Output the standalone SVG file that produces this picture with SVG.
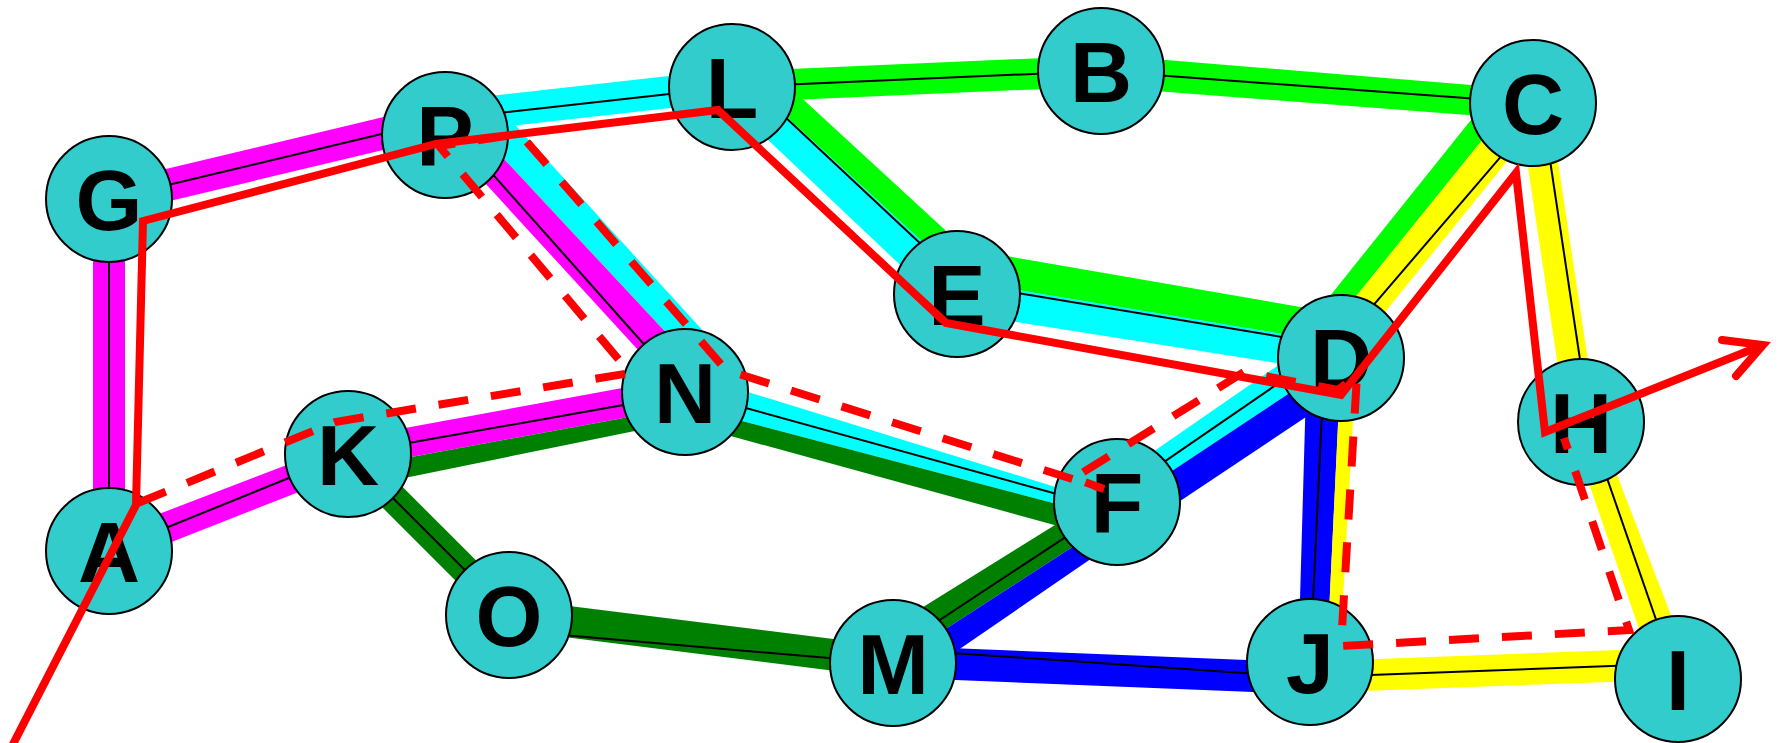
<svg xmlns="http://www.w3.org/2000/svg" width="1783" height="743" viewBox="0 0 1783 743">
<style>
.mag{fill:#ff00ff}.cya{fill:#00ffff}.lgr{fill:#00ff00}.dgr{fill:#008000}.blu{fill:#0000ff}.yel{fill:#ffff00}
.ctr{stroke:#000;stroke-width:2;fill:none}
.node circle{fill:#33cccc;stroke:#000;stroke-width:2}
.node text{font-family:"Liberation Sans",Arial,sans-serif;font-weight:bold;font-size:86px;text-anchor:middle;fill:#000}
.route{fill:none;stroke:#ff0000;stroke-width:8;stroke-linejoin:miter;stroke-miterlimit:10}
.dash{stroke-dasharray:30 23}
</style>
<rect width="1783" height="743" fill="#ffffff"/>
<g id="connectors">
<g id="edge-G-A" transform="translate(109 199) rotate(90)">
<polygon class="mag" points="0,-16 352,-16 352,16 0,16"/>
<line class="ctr" x1="0" y1="0" x2="352" y2="0"/>
</g>
<g id="edge-G-P" transform="translate(109 199) rotate(-10.784)">
<polygon class="mag" points="0,-16 342,-31.7 342,0.3 0,16"/>
<line class="ctr" x1="0" y1="0" x2="342" y2="-15.7"/>
</g>
<g id="edge-P-L" transform="translate(445 135) rotate(-9.495)">
<polygon class="cya" points="0,-33.8 291,-18 291,14 0,-1.8"/>
<line class="ctr" x1="0" y1="-15.8" x2="291" y2="0"/>
</g>
<g id="edge-L-B" transform="translate(732 87) rotate(-2.483)">
<polygon class="lgr" points="0,-15.5 369.4,-15.5 369.4,15.5 0,15.5"/>
<line class="ctr" x1="0" y1="0" x2="369.4" y2="0"/>
</g>
<g id="edge-B-C" transform="translate(1101 71) rotate(4.236)">
<polygon class="lgr" points="0,-16.2 433.2,-12.8 433.2,16.9 0,15.7"/>
<line class="ctr" x1="0" y1="0" x2="433.2" y2="0"/>
</g>
<g id="edge-L-E" transform="translate(732 87) rotate(42.61)">
<polygon class="lgr" points="0,-39 305.7,-39 305.7,-15 0,-15"/>
<polygon class="cya" points="0,-15 305.7,-15 305.7,18 0,13.6"/>
<line class="ctr" x1="0" y1="-14.3" x2="305.7" y2="-11.8"/>
</g>
<g id="edge-E-D" transform="translate(957 294) rotate(9.462)">
<polygon class="lgr" points="0,-45.8 389.3,-43.4 389.3,-14 0,-14"/>
<polygon class="cya" points="0,-14 389.3,-14 389.3,14.9 0,18.4"/>
<line class="ctr" x1="0" y1="-11" x2="389.3" y2="-11"/>
</g>
<g id="edge-D-C" transform="translate(1341 358) rotate(-53.03)">
<polygon class="lgr" points="0,-47.4 319.2,-37.8 319.2,-16.2 0,-27"/>
<polygon class="yel" points="0,-27 319.2,-16.2 319.2,16.4 0,5.4"/>
<line class="ctr" x1="0" y1="-9.8" x2="319.2" y2="10.5"/>
</g>
<g id="edge-C-H" transform="translate(1533 103) rotate(81.44)">
<polygon class="yel" points="0,-16 322.6,-16 322.6,14.5 0,14.5"/>
<line class="ctr" x1="0" y1="-8.3" x2="322.6" y2="-8.3"/>
</g>
<g id="edge-H-I" transform="translate(1581 422) rotate(69.32)">
<polygon class="yel" points="0,-14.6 274.7,-16.4 274.7,20.5 0,12.5"/>
<line class="ctr" x1="0" y1="-6.2" x2="274.7" y2="1.3"/>
</g>
<g id="edge-J-I" transform="translate(1310 662) rotate(2.645)">
<polygon class="yel" points="0,-0.5 368.4,-31.2 368.4,0.4 0,31.1"/>
<line class="ctr" x1="0" y1="15.3" x2="368.4" y2="-15.4"/>
</g>
<g id="edge-J-D" transform="translate(1310 662) rotate(-84.18)">
<polygon class="blu" points="0,-11.8 305.6,-34.2 305.6,0.2 0,16.7"/>
<polygon class="yel" points="0,16.7 305.6,0.2 305.6,15.5 0,29.5"/>
<line class="ctr" x1="0" y1="0.1" x2="305.6" y2="-16.4"/>
</g>
<g id="edge-M-J" transform="translate(893 663) rotate(-0.137)">
<polygon class="blu" points="0,-17.3 417,0.55 417,32.3 0,14.4"/>
<line class="ctr" x1="0" y1="-14.1" x2="417" y2="15.6"/>
</g>
<g id="edge-F-D" transform="translate(1117 502) rotate(-32.74)">
<polygon class="cya" points="0,-20.7 266.3,-29.8 266.3,0.9 0,4.5"/>
<polygon class="blu" points="0,4.5 266.3,0.9 266.3,29.7 0,34.2"/>
<line class="ctr" x1="0" y1="-6.4" x2="266.3" y2="-14.6"/>
</g>
<g id="edge-M-F" transform="translate(893 663) rotate(-35.71)">
<polygon class="dgr" points="0,-31.6 275.9,-13.3 275.9,13.7 0,-0.1"/>
<polygon class="blu" points="0,-0.1 275.9,13.7 275.9,32.2 0,26.1"/>
<line class="ctr" x1="0" y1="-10.2" x2="275.9" y2="1"/>
</g>
<g id="edge-N-F" transform="translate(685 392) rotate(14.29)">
<polygon class="cya" points="0,-18.6 445.8,3.8 445.8,17.2 0,13.6"/>
<polygon class="dgr" points="0,13.6 445.8,17.2 445.8,38.7 0,30.3"/>
<line class="ctr" x1="0" y1="-0.8" x2="445.8" y2="8.3"/>
</g>
<g id="edge-P-N" transform="translate(445 135) rotate(46.96)">
<polygon class="cya" points="0,-58.7 351.6,-54.6 351.6,-26.7 0,-26.7"/>
<polygon class="mag" points="0,-26.7 351.6,-26.7 351.6,6.2 0,3"/>
<line class="ctr" x1="0" y1="-9.6" x2="351.6" y2="-1.1"/>
</g>
<g id="edge-K-N" transform="translate(348 454) rotate(-10.42)">
<polygon class="mag" points="0,-15.2 342.7,-15.2 342.7,14.4 0,14.4"/>
<polygon class="dgr" points="0,14.4 342.7,14.4 342.7,28.2 0,34.7"/>
<line class="ctr" x1="0" y1="-0.2" x2="342.7" y2="2"/>
</g>
<g id="edge-A-K" transform="translate(109 551) rotate(-22.09)">
<polygon class="mag" points="0,-16.7 257.9,-11.6 257.9,17.4 0,14.5"/>
<line class="ctr" x1="0" y1="0" x2="257.9" y2="0"/>
</g>
<g id="edge-K-O" transform="translate(348 454) rotate(45)">
<polygon class="dgr" points="0,-15.3 227.7,-15.3 227.7,13.5 0,13.5"/>
<line class="ctr" x1="0" y1="-0.6" x2="227.7" y2="-0.6"/>
</g>
<g id="edge-O-M" transform="translate(509 615) rotate(7.125)">
<polygon class="dgr" points="0,-16.5 387,-16.5 387,15 0,15"/>
<line class="ctr" x1="0" y1="15.2" x2="387" y2="0.6"/>
</g>
</g>
<g id="nodes">
<g id="node-A" class="node"><circle cx="109" cy="551" r="63"/><text x="109" y="582">A</text></g>
<g id="node-B" class="node"><circle cx="1101" cy="71" r="63"/><text x="1101" y="102">B</text></g>
<g id="node-C" class="node"><circle cx="1533" cy="103" r="63"/><text x="1533" y="134">C</text></g>
<g id="node-D" class="node"><circle cx="1341" cy="358" r="63"/><text x="1341" y="389">D</text></g>
<g id="node-E" class="node"><circle cx="957" cy="294" r="63"/><text x="957" y="325">E</text></g>
<g id="node-F" class="node"><circle cx="1117" cy="502" r="63"/><text x="1117" y="533">F</text></g>
<g id="node-G" class="node"><circle cx="109" cy="199" r="63"/><text x="109" y="230">G</text></g>
<g id="node-H" class="node"><circle cx="1581" cy="422" r="63"/><text x="1581" y="453">H</text></g>
<g id="node-I" class="node"><circle cx="1678" cy="679" r="63"/><text x="1678" y="710">I</text></g>
<g id="node-J" class="node"><circle cx="1310" cy="662" r="63"/><text x="1310" y="693">J</text></g>
<g id="node-K" class="node"><circle cx="348" cy="454" r="63"/><text x="348" y="485">K</text></g>
<g id="node-L" class="node"><circle cx="732" cy="87" r="63"/><text x="732" y="118">L</text></g>
<g id="node-M" class="node"><circle cx="893" cy="663" r="63"/><text x="893" y="694">M</text></g>
<g id="node-N" class="node"><circle cx="685" cy="392" r="63"/><text x="685" y="423">N</text></g>
<g id="node-O" class="node"><circle cx="509" cy="615" r="63"/><text x="509" y="646">O</text></g>
<g id="node-P" class="node"><circle cx="445" cy="135" r="63"/><text x="445" y="166">P</text></g>
</g>
<g id="routes">
<path id="route-dashed" class="route dash" d="M138,503 L335,422 L630,373 L439,146 L520,134 L726,370 L1104,489 L1074,478 L1244,372 L1338,390 L1357,375 L1341,646 L1629,630 L1564,438"/>
<path id="route-solid" class="route" d="M10,750 L136,505 L143,221 L436,144 L718,110 L946,323 L1341,395 L1516,173 L1545,432 L1763,345"/>
<polyline id="route-arrowhead" class="route" points="1722,340 1763,345 1736,376" style="stroke-linecap:round"/>
</g>
</svg>
